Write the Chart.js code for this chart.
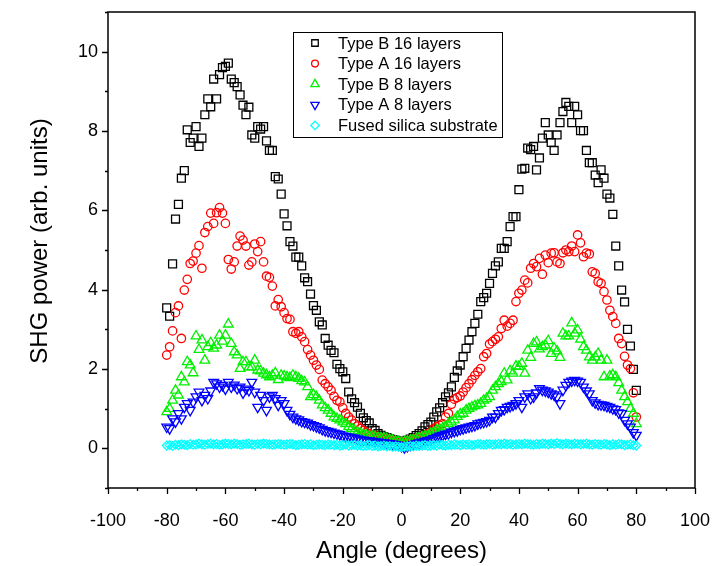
<!DOCTYPE html>
<html>
<head>
<meta charset="utf-8">
<script src="https://cdn.jsdelivr.net/npm/chart.js@4.4.0/dist/chart.umd.min.js"></script>
<style>
  html, body { margin: 0; padding: 0; background: #fff; }
  #wrap { width: 714px; height: 566px; }
</style>
</head>
<body>
<div id="wrap"><canvas id="graph" width="714" height="566"></canvas></div>
<script>
// incidence angle (degrees), one reading per degree
const angles = [
  -80, -79, -78, -77, -76, -75, -74, -73, -72, -71,
  -70, -69, -68, -67, -66, -65, -64, -63, -62, -61,
  -60, -59, -58, -57, -56, -55, -54, -53, -52, -51,
  -50, -49, -48, -47, -46, -45, -44, -43, -42, -41,
  -40, -39, -38, -37, -36, -35, -34, -33, -32, -31,
  -30, -29, -28, -27, -26, -25, -24, -23, -22, -21,
  -20, -19, -18, -17, -16, -15, -14, -13, -12, -11,
  -10, -9, -8, -7, -6, -5, -4, -3, -2, -1,
  0,
  1, 2, 3, 4, 5, 6, 7, 8, 9, 10,
  11, 12, 13, 14, 15, 16, 17, 18, 19, 20,
  21, 22, 23, 24, 25, 26, 27, 28, 29, 30,
  31, 32, 33, 34, 35, 36, 37, 38, 39, 40,
  41, 42, 43, 44, 45, 46, 47, 48, 49, 50,
  51, 52, 53, 54, 55, 56, 57, 58, 59, 60,
  61, 62, 63, 64, 65, 66, 67, 68, 69, 70,
  71, 72, 73, 74, 75, 76, 77, 78, 79, 80
];

const typeB16 = [
  3.54, 3.33, 4.65, 5.78, 6.15, 6.81, 7.00, 8.03, 7.71, 7.82,
  8.11, 7.61, 7.82, 8.41, 8.81, 8.61, 9.31, 8.81, 9.42, 9.60,
  9.63, 9.71, 9.31, 9.22, 9.12, 8.91, 8.65, 8.41, 8.60, 7.90,
  7.82, 8.11, 8.05, 8.11, 7.75, 7.51, 7.51, 6.85, 6.79, 6.41,
  5.91, 5.61, 5.21, 5.10, 4.82, 4.82, 4.60, 4.30, 4.20, 3.89,
  3.60, 3.48, 3.19, 3.11, 2.77, 2.60, 2.47, 2.41, 2.12, 2.01,
  1.93, 1.76, 1.42, 1.25, 1.15, 1.04, 0.88, 0.77, 0.70, 0.64,
  0.50, 0.45, 0.37, 0.33, 0.29, 0.27, 0.24, 0.22, 0.20, 0.18,
  0.15,
  0.17, 0.20, 0.23, 0.27, 0.32, 0.37, 0.44, 0.54, 0.60, 0.66,
  0.79, 0.92, 1.02, 1.15, 1.30, 1.40, 1.55, 1.79, 1.95, 2.10,
  2.31, 2.52, 2.73, 2.94, 3.15, 3.38, 3.70, 3.80, 3.91, 4.16,
  4.41, 4.60, 4.70, 5.04, 5.04, 5.21, 5.59, 5.84, 5.84, 6.52,
  7.04, 7.06, 7.57, 7.53, 7.61, 7.02, 7.32, 7.82, 8.21, 7.90,
  7.71, 7.51, 7.90, 8.21, 8.49, 8.72, 8.62, 8.21, 8.62, 8.41,
  8.01, 8.01, 7.51, 7.20, 7.20, 6.89, 6.70, 7.02, 6.81, 6.41,
  6.31, 5.90, 5.10, 4.60, 3.99, 3.69, 3.00, 2.58, 1.99, 1.46
];

const typeA16 = [
  2.35, 2.56, 2.96, 3.42, 3.59, 2.77, 3.99, 4.26, 4.66, 4.72,
  4.92, 5.11, 4.54, 5.44, 5.59, 5.93, 5.67, 5.94, 6.07, 5.93,
  5.67, 4.76, 4.52, 4.70, 5.10, 5.35, 5.25, 5.10, 4.62, 4.70,
  5.15, 4.96, 5.21, 4.70, 4.34, 4.31, 4.09, 3.59, 3.75, 3.57,
  3.42, 3.27, 3.25, 2.94, 2.90, 2.94, 2.81, 2.69, 2.49, 2.35,
  2.22, 2.10, 1.99, 1.72, 1.63, 1.55, 1.46, 1.31, 1.21, 1.17,
  1.02, 0.88, 0.79, 0.71, 0.62, 0.56, 0.50, 0.45, 0.39, 0.37,
  0.33, 0.31, 0.29, 0.27, 0.24, 0.23, 0.22, 0.21, 0.19, 0.17,
  0.15,
  0.16, 0.18, 0.20, 0.22, 0.25, 0.27, 0.30, 0.33, 0.37, 0.41,
  0.50, 0.54, 0.58, 0.62, 0.79, 0.88, 1.11, 1.24, 1.28, 1.32,
  1.42, 1.53, 1.63, 1.73, 1.84, 1.93, 2.01, 2.31, 2.39, 2.63,
  2.69, 2.75, 2.81, 3.02, 3.23, 3.08, 3.15, 3.23, 3.70, 3.91,
  3.99, 4.24, 4.17, 4.54, 4.66, 4.58, 4.79, 4.39, 4.87, 4.68,
  4.92, 4.93, 4.70, 4.66, 4.93, 5.00, 4.96, 5.10, 4.96, 5.38,
  5.18, 4.83, 4.92, 4.90, 4.45, 4.41, 4.20, 4.16, 3.95, 3.74,
  3.48, 3.32, 3.15, 2.77, 2.64, 2.32, 2.10, 2.01, 1.40, 0.79
];

const typeB8 = [
  0.92, 1.00, 1.21, 1.46, 1.34, 1.80, 1.67, 2.18, 2.10, 1.90,
  2.83, 2.49, 2.73, 2.22, 2.56, 2.66, 2.52, 2.60, 2.85, 2.70,
  2.85, 3.13, 2.64, 2.43, 2.35, 2.01, 2.18, 2.18, 2.05, 2.05,
  2.22, 1.97, 1.95, 1.89, 1.85, 1.80, 1.84, 1.90, 1.73, 1.84,
  1.82, 1.80, 1.78, 1.84, 1.80, 1.76, 1.70, 1.67, 1.55, 1.30,
  1.35, 1.30, 1.21, 1.09, 1.02, 0.96, 0.88, 0.79, 0.75, 0.71,
  0.66, 0.62, 0.54, 0.50, 0.45, 0.41, 0.37, 0.35, 0.33, 0.31,
  0.30, 0.29, 0.27, 0.26, 0.26, 0.24, 0.22, 0.20, 0.18, 0.16,
  0.15,
  0.16, 0.18, 0.20, 0.22, 0.24, 0.26, 0.28, 0.30, 0.33, 0.37,
  0.41, 0.45, 0.48, 0.50, 0.55, 0.62, 0.66, 0.71, 0.80, 0.86,
  0.88, 0.96, 1.00, 1.04, 1.07, 1.09, 1.13, 1.21, 1.25, 1.30,
  1.46, 1.55, 1.63, 1.68, 1.89, 1.72, 1.95, 1.89, 2.07, 2.06,
  2.14, 1.89, 2.47, 2.29, 2.64, 2.68, 2.50, 2.56, 2.60, 2.71,
  2.39, 2.52, 2.45, 2.29, 2.90, 2.83, 2.83, 3.16, 2.90, 2.98,
  2.75, 2.56, 2.47, 2.30, 2.22, 2.30, 2.39, 2.22, 1.80, 2.22,
  1.82, 1.85, 1.80, 1.65, 1.46, 1.30, 1.17, 1.00, 0.88, 0.62
];

const typeA8 = [
  0.54, 0.50, 0.75, 0.67, 0.88, 0.75, 1.04, 1.13, 0.96, 1.17,
  1.30, 1.42, 1.21, 1.34, 1.26, 1.45, 1.67, 1.63, 1.55, 1.59,
  1.50, 1.67, 1.55, 1.60, 1.51, 1.55, 1.40, 1.50, 1.46, 1.67,
  1.42, 1.04, 1.34, 1.21, 0.96, 1.30, 1.34, 1.26, 1.09, 1.21,
  1.13, 0.96, 0.86, 0.79, 0.75, 0.72, 0.68, 0.66, 0.64, 0.60,
  0.58, 0.55, 0.52, 0.48, 0.45, 0.43, 0.41, 0.39, 0.37, 0.35,
  0.32, 0.30, 0.29, 0.27, 0.26, 0.24, 0.22, 0.21, 0.20, 0.19,
  0.18, 0.17, 0.16, 0.15, 0.14, 0.13, 0.12, 0.11, 0.10, 0.08,
  0.05,
  0.02, 0.05, 0.08, 0.10, 0.12, 0.14, 0.16, 0.18, 0.20, 0.22,
  0.25, 0.28, 0.31, 0.33, 0.36, 0.37, 0.41, 0.43, 0.45, 0.48,
  0.50, 0.52, 0.54, 0.56, 0.58, 0.62, 0.64, 0.66, 0.68, 0.71,
  0.79, 0.79, 0.88, 0.96, 0.98, 1.04, 1.06, 1.09, 1.13, 1.21,
  1.04, 1.30, 1.38, 1.26, 1.30, 1.40, 1.51, 1.47, 1.45, 1.42,
  1.38, 1.35, 1.30, 1.13, 1.47, 1.59, 1.67, 1.70, 1.72, 1.70,
  1.67, 1.55, 1.45, 1.38, 1.21, 1.15, 1.11, 1.10, 1.09, 1.06,
  1.04, 1.00, 0.98, 0.90, 0.88, 0.71, 0.62, 0.54, 0.40, 0.33
];

const silica = [
  0.07, 0.08, 0.06, 0.09, 0.08, 0.10, 0.09, 0.08, 0.11, 0.09,
  0.10, 0.12, 0.10, 0.09, 0.11, 0.12, 0.10, 0.11, 0.09, 0.10,
  0.12, 0.11, 0.10, 0.12, 0.11, 0.09, 0.10, 0.11, 0.12, 0.10,
  0.09, 0.11, 0.10, 0.12, 0.11, 0.10, 0.09, 0.10, 0.11, 0.10,
  0.09, 0.10, 0.11, 0.10, 0.08, 0.09, 0.10, 0.11, 0.09, 0.10,
  0.08, 0.09, 0.10, 0.09, 0.08, 0.10, 0.09, 0.08, 0.09, 0.07,
  0.08, 0.09, 0.07, 0.08, 0.09, 0.07, 0.08, 0.06, 0.07, 0.08,
  0.06, 0.07, 0.05, 0.06, 0.07, 0.05, 0.06, 0.04, 0.05, 0.04,
  0.03,
  0.04, 0.05, 0.06, 0.05, 0.07, 0.06, 0.07, 0.08, 0.06, 0.07,
  0.08, 0.07, 0.09, 0.08, 0.07, 0.09, 0.08, 0.10, 0.09, 0.08,
  0.10, 0.09, 0.10, 0.08, 0.09, 0.11, 0.10, 0.09, 0.10, 0.11,
  0.09, 0.10, 0.11, 0.10, 0.12, 0.10, 0.11, 0.09, 0.10, 0.11,
  0.10, 0.12, 0.11, 0.10, 0.09, 0.11, 0.10, 0.12, 0.11, 0.10,
  0.12, 0.11, 0.13, 0.11, 0.10, 0.12, 0.11, 0.10, 0.12, 0.11,
  0.10, 0.11, 0.12, 0.10, 0.09, 0.11, 0.10, 0.09, 0.11, 0.10,
  0.08, 0.10, 0.09, 0.11, 0.10, 0.08, 0.09, 0.10, 0.08, 0.07
];

const xTickValues = [-100, -80, -60, -40, -20, 0, 20, 40, 60, 80, 100];
const yTickValues = [0, 2, 4, 6, 8, 10];

const FONT = '"Liberation Sans", Arial, sans-serif';

function pts(ys) {
  return angles.map((a, i) => ({ x: a, y: ys[i] }));
}

// series look, same order as the legend
const series = [
  { label: 'Type B 16 layers', data: typeB16, color: '#000000', style: 'rect', r: 5.6, rot: 0, lr: 4.6 },
  { label: 'Type A 16 layers', data: typeA16, color: '#ff0000', style: 'circle', r: 4.2, rot: 0, lr: 3.4 },
  { label: 'Type B 8 layers', data: typeB8, color: '#00f000', style: 'triangle', r: 5.6, rot: 0, lr: 4.8 },
  { label: 'Type A 8 layers', data: typeA8, color: '#0000ff', style: 'triangle', r: 5.6, rot: 180, lr: 4.8 },
  { label: 'Fused silica substrate', data: silica, color: '#00ffff', style: 'rectRot', r: 4.4, rot: 0, lr: 4.2 }
];

const frame = {
  id: 'frame',
  afterDraw(chart) {
    const ctx = chart.ctx;
    const ca = chart.chartArea;
    const xs = chart.scales.x, ys = chart.scales.y;
    ctx.save();
    ctx.strokeStyle = '#000';
    ctx.lineWidth = 1.5;
    ctx.strokeRect(ca.left, ca.top, ca.right - ca.left, ca.bottom - ca.top);

    // outward ticks, major and minor
    ctx.lineWidth = 1.3;
    ctx.beginPath();
    for (let v = -100; v <= 100; v += 10) {
      const px = Math.round(xs.getPixelForValue(v)) + 0.5;
      const len = xTickValues.includes(v) ? 6 : 3;
      ctx.moveTo(px, ca.bottom);
      ctx.lineTo(px, ca.bottom + len);
    }
    for (let v = -1; v <= 11; v += 1) {
      const py = Math.round(ys.getPixelForValue(v)) + 0.5;
      const len = yTickValues.includes(v) ? 6 : 3;
      ctx.moveTo(ca.left, py);
      ctx.lineTo(ca.left - len, py);
    }
    ctx.stroke();

    // axis titles
    ctx.fillStyle = '#000';
    ctx.font = '24px ' + FONT;
    ctx.textAlign = 'center';
    ctx.textBaseline = 'middle';
    ctx.fillText('Angle (degrees)', (ca.left + ca.right) / 2, 551);
    ctx.save();
    ctx.translate(40, 241);
    ctx.rotate(-Math.PI / 2);
    ctx.fillText('SHG power (arb. units)', 0, 0);
    ctx.restore();

    // legend box
    const bx = 293, by = 32, bw = 209, bh = 105;
    ctx.fillStyle = '#fff';
    ctx.fillRect(bx, by, bw, bh);
    ctx.lineWidth = 1;
    ctx.strokeStyle = '#000';
    ctx.strokeRect(bx + 0.5, by + 0.5, bw, bh);
    ctx.font = '16.5px ' + FONT;
    ctx.textAlign = 'left';
    series.forEach((s, i) => {
      const cy = 43 + i * 20.6;
      ctx.fillStyle = 'rgba(0,0,0,0)';
      ctx.strokeStyle = s.color;
      ctx.lineWidth = 1.3;
      Chart.helpers.drawPoint(ctx, { pointStyle: s.style, radius: s.lr, rotation: s.rot, borderWidth: 1.3 }, 315, cy);
      ctx.fillStyle = '#000';
      ctx.fillText(s.label, 338, cy + 1);
    });
    ctx.restore();
  }
};

new Chart(document.getElementById('graph'), {
  type: 'scatter',
  data: {
    datasets: series.map((s, i) => ({
      label: s.label,
      data: pts(s.data),
      pointStyle: s.style,
      pointRadius: s.r,
      pointRotation: s.rot,
      pointBorderWidth: 1.3,
      pointBorderColor: s.color,
      pointBackgroundColor: 'rgba(0,0,0,0)',
      showLine: false,
      order: series.length - i
    }))
  },
  options: {
    responsive: false,
    devicePixelRatio: 1,
    animation: false,
    layout: { padding: { left: 0, right: 19, top: 12, bottom: 0 } },
    plugins: { legend: { display: false }, tooltip: { enabled: false } },
    scales: {
      x: {
        type: 'linear',
        min: -100, max: 100,
        grid: { display: false, drawTicks: false },
        border: { display: false },
        ticks: {
          stepSize: 10, autoSkip: false, maxRotation: 0,
          padding: 22, color: '#000',
          font: { family: FONT, size: 18 },
          callback: v => (xTickValues.includes(v) ? String(v) : '')
        },
        afterFit(s) { s.height = 566 - 488; s.paddingLeft = 0; s.paddingRight = 0; }
      },
      y: {
        min: -1, max: 11,
        grid: { display: false, drawTicks: false },
        border: { display: false },
        ticks: {
          stepSize: 1, autoSkip: false,
          padding: 10, color: '#000',
          font: { family: FONT, size: 18 },
          callback: v => (yTickValues.includes(v) ? String(v) : '')
        },
        afterFit(s) { s.width = 108; s.paddingTop = 0; s.paddingBottom = 0; }
      }
    }
  },
  plugins: [frame]
});
</script>
</body>
</html>
